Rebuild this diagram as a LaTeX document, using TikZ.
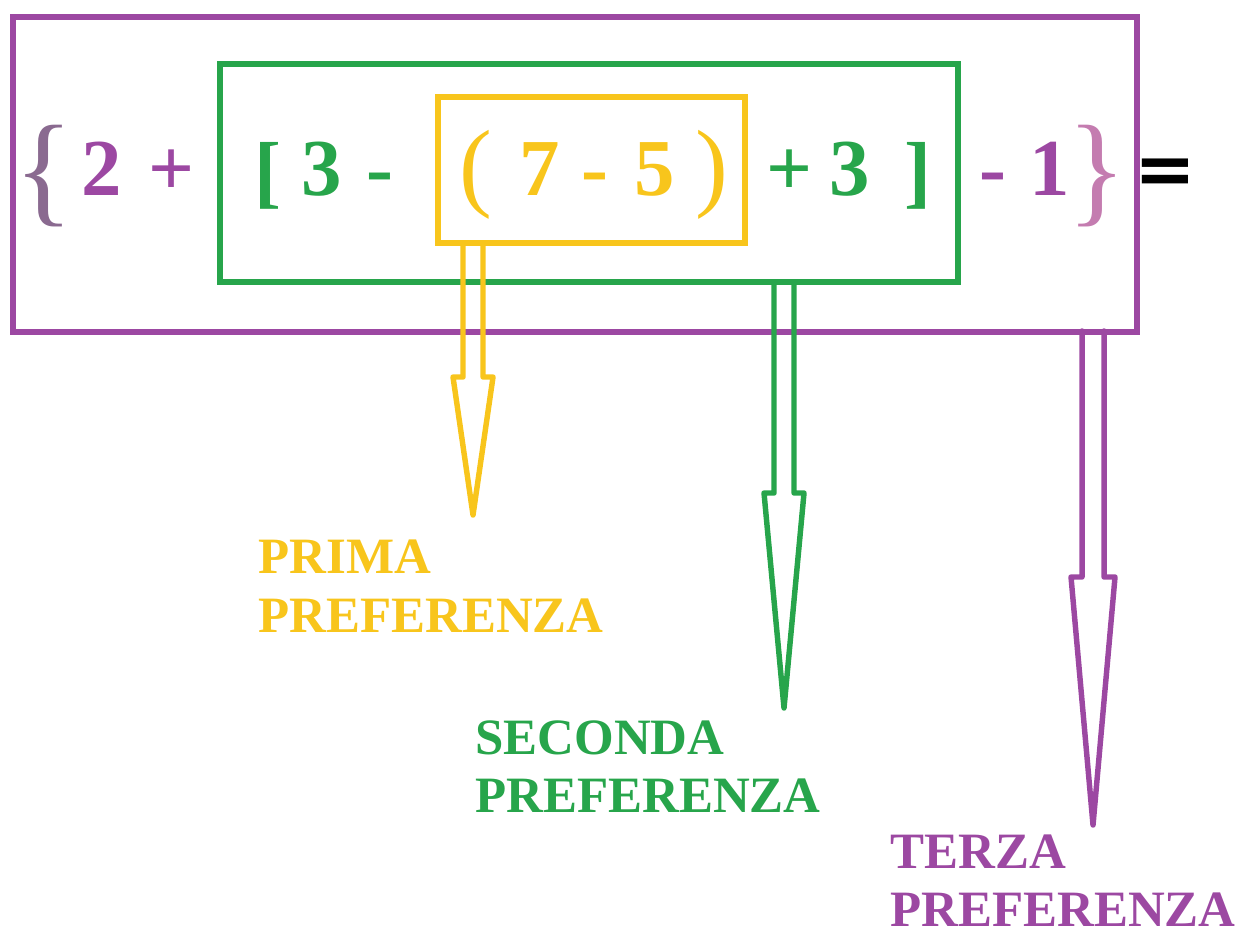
\documentclass[tikz,border=0pt]{standalone}
\usepackage{fontspec}
\setmainfont{Liberation Serif}
\newfontfamily\uguale{DejaVu Sans}
\usepackage{tikz}
\usetikzlibrary{calc, fit, positioning}
\definecolor{viola}{HTML}{9C48A2}
\definecolor{verde}{HTML}{27A54B}
\definecolor{giallo}{HTML}{F8C51C}
\definecolor{violagrigio}{HTML}{8A6A90}
\definecolor{rosa}{HTML}{C47CB0}
% hollow arrow: colour, start, head base, tip, half shaft width
\newcommand{\frecciacava}[5]{%
    \draw[freccia=#1] ($(#2)+(-#5,0)$) -- ($(#3)+(-#5,0)$) -- ($(#3)+(-2*#5,0)$)
        -- (#4) -- ($(#3)+(2*#5,0)$) -- ($(#3)+(#5,0)$) -- ($(#2)+(#5,0)$);%
}

\begin{document}
\begin{tikzpicture}[
        x=0.02cm, y=-0.02cm,
        cornice/.style={draw=#1, line width=3.4pt, inner sep=0pt},
        freccia/.style={draw=#1, line width=3.1pt, line join=round, line cap=round},
        tok/.style={inner sep=0pt, anchor=base, text=#1,
            font=\fontsize{46}{50}\selectfont\bfseries},
        grande/.style={font=\fontsize{70}{76}\selectfont},
        tonda/.style={font=\fontsize{56}{60}\selectfont},
        lbl/.style={inner sep=0pt, anchor=north west, align=left, text=#1,
            font=\fontsize{29}{33.5}\selectfont\bfseries}
    ]
        \useasboundingbox (0,0) rectangle (1247,943);

        % nested boxes
        \node[cornice=viola, fit={(13,17) (1137,332)}] (terzobox) {};
        \node[cornice=verde, fit={(220,64) (958,282)}] (secondobox) {};
        \node[cornice=giallo, fit={(438,97) (745,243)}] (primobox) {};

        % the expression
        \node[tok=violagrigio, grande] (graffaA) at (44,210) {\{};
        \node[tok=viola] (due) at (102,195) {2};
        \node[tok=viola] (piuA) at (172,195) {+};
        \node[tok=verde] (quadraA) at (268,198) {[};
        \node[tok=verde] (treA) at (322,195) {3};
        \node[tok=verde] (menoA) at (380,195) {-};
        \node[tok=giallo, tonda] (tondaA) at (476,198) {(};
        \node[tok=giallo] (sette) at (540,195) {7};
        \node[tok=giallo] (menoB) at (595,195) {-};
        \node[tok=giallo] (cinque) at (655,195) {5};
        \node[tok=giallo, tonda] (tondaB) at (712,198) {)};
        \node[tok=verde] (piuB) at (790,195) {+};
        \node[tok=verde] (treB) at (850,195) {3};
        \node[tok=verde] (quadraB) at (918,198) {]};
        \node[tok=viola] (menoC) at (993,195) {-};
        \node[tok=viola] (uno) at (1050,195) {1};
        \node[tok=rosa, grande] (graffaB) at (1097,210) {\}};
        \node[inner sep=0pt, anchor=base, font=\uguale\bfseries\fontsize{42}{46}\selectfont] (uguale) at (1165,194) {=};

        % arrows
        \coordinate (gInizio) at ($(primobox.south west)+(38,0)$);
        \coordinate (gTesta) at (gInizio |- 0,377);
        \coordinate (gPunta) at (gInizio |- 0,515);
        \coordinate (vInizio) at ($(secondobox.south west)+(567,0)$);
        \coordinate (vTesta) at (vInizio |- 0,493);
        \coordinate (vPunta) at (vInizio |- 0,708);
        \coordinate (pInizio) at ($(terzobox.south west)+(1083,-4)$);
        \coordinate (pTesta) at (pInizio |- 0,577);
        \coordinate (pPunta) at (pInizio |- 0,825);

        \frecciacava{giallo}{gInizio}{gTesta}{gPunta}{10}
        \frecciacava{verde}{vInizio}{vTesta}{vPunta}{10}
        \frecciacava{viola}{pInizio}{pTesta}{pPunta}{11}

        % labels
        \node[lbl=giallo] (prima) at (258,540) {PRIMA\\PREFERENZA};
        \node[lbl=verde] (seconda) at (475,720) {SECONDA\\PREFERENZA};
        \node[lbl=viola] (terza) at (890,834) {TERZA\\PREFERENZA};
    \end{tikzpicture}
\end{document}
